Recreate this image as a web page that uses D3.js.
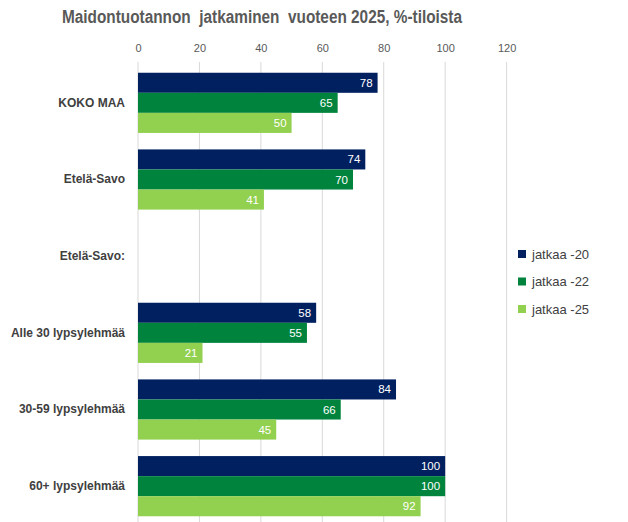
<!DOCTYPE html>
<html>
<head>
<meta charset="utf-8">
<script src="https://cdn.jsdelivr.net/npm/d3@7"></script>
<style>
  body { margin: 0; background: #fff; }
  text { font-family: "Liberation Sans", Arial, sans-serif; }
</style>
</head>
<body>
<script>
var categories = ["KOKO MAA", "Etelä-Savo", "Etelä-Savo:", "Alle 30 lypsylehmää", "30-59 lypsylehmää", "60+ lypsylehmää"]
var seriesNames = ["jatkaa -20", "jatkaa -22", "jatkaa -25"]
var jatkaa20 = [78, 74, null, 58, 84, 100]
var jatkaa22 = [65, 70, null, 55, 66, 100]
var jatkaa25 = [50, 41, null, 21, 45, 92]
var xTicks = [0, 20, 40, 60, 80, 100, 120]
var colors = ["#002060", "#00843d", "#92d050"]

var w = 628, h = 522
var plotLeft = 138, plotRight = 506.6, plotTop = 64.5, plotBottom = 524.5

var svg = d3.select("body").append("svg")
    .attr("width", w).attr("height", h)

var x = d3.scaleLinear().domain([0, 120]).range([plotLeft, plotRight])
var y = d3.scaleBand().domain(categories).range([plotTop, plotBottom])
    .paddingInner(0.215).paddingOuter(0.1075)
var ySub = d3.scaleBand().domain(seriesNames).range([0, y.bandwidth()])

// title
svg.append("text")
    .attr("x", 62).attr("y", 23)
    .attr("textLength", 400).attr("lengthAdjust", "spacingAndGlyphs")
    .style("font-size", "18px").style("font-weight", "bold")
    .style("fill", "#595959")
    .attr("xml:space", "preserve")
    .text("Maidontuotannon  jatkaminen  vuoteen 2025, %-tiloista")

// gridlines
svg.append("g").selectAll("line")
    .data(xTicks).enter().append("line")
    .attr("x1", function(d) { return x(d) }).attr("x2", function(d) { return x(d) })
    .attr("y1", 62).attr("y2", h)
    .style("stroke", "#d9d9d9").style("stroke-width", 1)

// top axis
var axis = svg.append("g")
    .attr("transform", "translate(0,52)")
    .call(d3.axisTop(x).tickValues(xTicks).tickSize(0).tickPadding(0))
axis.select(".domain").remove()
axis.selectAll("text")
    .style("font-size", "11px").style("fill", "#595959")
    .style("font-family", "'Liberation Sans', Arial, sans-serif")

// category labels
var yAxis = svg.append("g")
    .attr("transform", "translate(125,0)")
    .call(d3.axisLeft(y).tickSize(0).tickPadding(0))
yAxis.select(".domain").remove()
yAxis.selectAll("text")
    .style("font-size", "12px").style("font-weight", "bold").style("fill", "#404040")
    .style("font-family", "'Liberation Sans', Arial, sans-serif")

var series = [jatkaa20, jatkaa22, jatkaa25]
var rows = []
series.forEach(function(vals, si) {
  vals.forEach(function(v, ci) {
    if (v !== null) rows.push({ cat: categories[ci], s: seriesNames[si], si: si, v: v })
  })
})

var bars = svg.append("g").selectAll("g")
    .data(rows).enter().append("g")

bars.append("rect")
    .attr("x", x(0))
    .attr("y", function(d) { return y(d.cat) + ySub(d.s) })
    .attr("width", function(d) { return x(d.v) - x(0) })
    .attr("height", ySub.bandwidth())
    .style("fill", function(d) { return colors[d.si] })

bars.append("text")
    .attr("x", function(d) { return x(d.v) - 5 })
    .attr("y", function(d) { return y(d.cat) + ySub(d.s) + ySub.bandwidth() / 2 })
    .attr("dy", "0.35em")
    .attr("text-anchor", "end")
    .style("font-size", "11.5px").style("fill", "#ffffff")
    .text(function(d) { return d.v })

// legend
var legend = svg.append("g").selectAll("g")
    .data(seriesNames).enter().append("g")
    .attr("transform", function(d, i) { return "translate(518," + (254 + i * 27.5) + ")" })
legend.append("rect")
    .attr("x", 0).attr("y", -4).attr("width", 8).attr("height", 8)
    .style("fill", function(d, i) { return colors[i] })
legend.append("text")
    .attr("x", 14).attr("dy", "0.35em")
    .style("font-size", "13px").style("fill", "#404040")
    .text(function(d) { return d })
</script>
</body>
</html>
